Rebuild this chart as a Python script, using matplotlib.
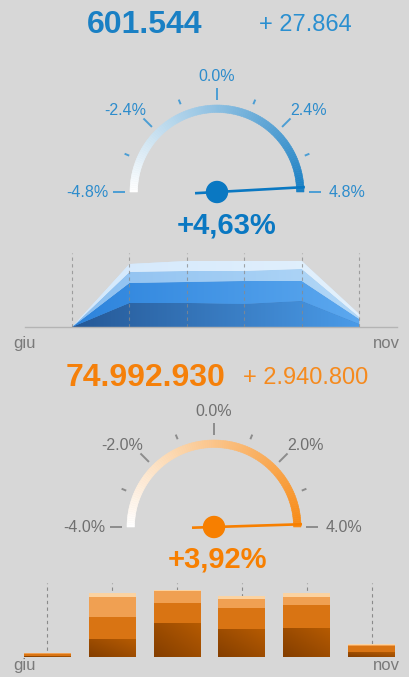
import numpy as np
import matplotlib.pyplot as plt
from matplotlib.patches import Wedge, Circle
from matplotlib.colors import LinearSegmentedColormap

W, H = 410, 677

# ---- data ----
months = ["giu", "lug", "ago", "set", "ott", "nov"]

top_total = "601.544"
top_delta = "+ 27.864"
top_change = 4.63
top_range = 4.8

# stacked area layers (bottom -> top)
area_dark = [0, 24, 24, 23, 26, 3]
area_mid = [0, 20, 21, 23, 20, 5]
area_light = [0, 11, 11, 10, 12, 2]
area_pale = [0, 8, 10, 10, 8, 3]

bot_total = "74.992.930"
bot_delta = "+ 2.940.800"
bot_change = 3.92
bot_range = 4.0

# stacked bar layers (bottom -> top)
bar_dark = [1.2, 18, 33.7, 27.7, 29.3, 5]
bar_mid = [1.5, 21.7, 20, 21.3, 22.7, 6.5]
bar_light = [1, 20, 12.6, 9, 7.7, 1]
bar_pale = [0.6, 4.6, 0.7, 3.3, 4.6, 1]

BG = "#d7d7d7"
FONT = "Liberation Sans"

fig = plt.figure(figsize=(W / 100, H / 100), dpi=100, facecolor=BG)


def px_axes(left, top, width, height):
    ax = fig.add_axes([left / W, 1 - (top + height) / H, width / W, height / H])
    ax.set_facecolor("none")
    return ax


def gauge(cx, cy, value, vmax, color, needle_color, tick_color, label_color, txt_dx):
    ax = px_axes(cx - 170, cy - 135, 340, 185)
    ax.set_xlim(-170, 170)
    ax.set_ylim(-50, 135)
    ax.axis("off")

    # gradient arc
    cmap = LinearSegmentedColormap.from_list("arc", ["#ffffff", color])
    n = 120
    edges = np.linspace(180, 0, n + 1)
    for i in range(n):
        c = cmap(i / (n - 1))
        ax.add_patch(Wedge((0, 0), 87, edges[i + 1], edges[i], width=7.5,
                           facecolor=c, edgecolor=c, lw=0.4))

    # ticks and labels
    ticks = np.linspace(-vmax, vmax, 9)
    for i, t in enumerate(ticks):
        a = np.deg2rad(90 - 90 * t / vmax)
        r0, r1 = (92, 104) if i % 2 == 0 else (95, 100)
        ax.plot([r0 * np.cos(a), r1 * np.cos(a)], [r0 * np.sin(a), r1 * np.sin(a)],
                color=tick_color, lw=1.4, solid_capstyle="butt")
        if i % 2 == 0:
            ax.text(130 * np.cos(a), 116 * np.sin(a) - 5, f"{t:.1f}%",
                    ha="center", va="baseline", fontsize=11.5, color=label_color,
                    family=FONT)

    # needle
    a = np.deg2rad(90 - 90 * value / vmax)
    ax.plot([-22 * np.cos(a), 88 * np.cos(a)], [-22 * np.sin(a), 88 * np.sin(a)],
            color=needle_color, lw=1.9, solid_capstyle="butt", zorder=4)
    ax.add_patch(Circle((0, 0), 10.5, color=needle_color, zorder=5))

    label = f"{value:+.2f}%".replace(".", ",")
    ax.text(txt_dx, -41, label, ha="center", va="baseline", fontsize=21,
            fontweight="bold", color=needle_color, family=FONT)
    return ax


def gradient_fill(ax, path, c0, c1, extent, diagonal=False, z=2):
    cmap = LinearSegmentedColormap.from_list("g", [c0, c1])
    if diagonal:
        xx, yy = np.meshgrid(np.linspace(0, 1, 64), np.linspace(0, 1, 64))
        img = (xx + yy) / 2
    else:
        img = np.linspace(0, 1, 256)[None, :]
    im = ax.imshow(img, cmap=cmap, extent=extent, aspect="auto", origin="lower",
                   interpolation="bilinear", zorder=z)
    im.set_clip_path(path, ax.transData)


# ---- top headline ----
fig.text(145 / W, 1 - 33 / H, top_total, ha="center", va="baseline", fontsize=23,
         fontweight="bold", color="#1a80c4", family=FONT)
fig.text(305 / W, 1 - 31 / H, top_delta, ha="center", va="baseline", fontsize=17,
         color="#2a8fd0", family=FONT)

gauge(217, 192, top_change, top_range, "#1a80c4", "#0a78c2", "#4c9ed4", "#2d8ccc", 10)

# ---- area chart ----
ax = px_axes(25, 253, 372, 74)
x = np.arange(len(months))
layers = [area_dark, area_mid, area_light, area_pale]
grads = [("#255896", "#4a9be8"), ("#2c83dc", "#5ca8ef"),
         ("#8cbff0", "#b3d8f7"), ("#d3e8fc", "#e3f1fd")]
polys = ax.stackplot(x, *layers, colors=[g[0] for g in grads], lw=0)
for poly, (c0, c1) in zip(polys, grads):
    gradient_fill(ax, poly.get_paths()[0], c0, c1, [0, 5, 0, 74], z=poly.get_zorder())
for xi in x:
    ax.axvline(xi, color="#8a8a8a", lw=0.8, ls=(0, (3, 3)), alpha=0.75, zorder=3)
ax.set_xlim(-0.82, 5.66)
ax.set_ylim(0, 74)
for s in ["top", "left", "right"]:
    ax.spines[s].set_visible(False)
ax.spines["bottom"].set_color("#b4b4b4")
ax.spines["bottom"].set_linewidth(1)
ax.set_xticks([])
ax.set_yticks([])

fig.text(13 / W, 1 - 348 / H, months[0], ha="left", va="baseline", fontsize=12,
         color="#7a7a7a", family=FONT)
fig.text(400 / W, 1 - 348 / H, months[-1], ha="right", va="baseline", fontsize=12,
         color="#7a7a7a", family=FONT)

# ---- bottom headline ----
fig.text(146 / W, 1 - 386 / H, bot_total, ha="center", va="baseline", fontsize=23,
         fontweight="bold", color="#f5800a", family=FONT)
fig.text(306 / W, 1 - 384 / H, bot_delta, ha="center", va="baseline", fontsize=17,
         color="#f58a1e", family=FONT)

gauge(214, 527, bot_change, bot_range, "#f88a14", "#f77f00", "#8c8c8c", "#707070", 4)

# ---- bar chart ----
ax2 = px_axes(0, 583, 410, 74)
for xi in x:
    ax2.axvline(xi, color="#8a8a8a", lw=0.8, ls=(0, (3, 3)), zorder=1)
bottom = np.zeros(len(x))
bar_layers = [bar_dark, bar_mid, bar_light, bar_pale]
bar_colors = ["#a04e02", "#d97413", "#f0a052", "#fbd3a2"]
for k, (vals, col) in enumerate(zip(bar_layers, bar_colors)):
    bars = ax2.bar(x, vals, width=0.725, bottom=bottom, color=col, lw=0, zorder=2)
    if k == 0:
        for rect in bars:
            x0, y0 = rect.get_x(), rect.get_y()
            gradient_fill(ax2, rect.get_path().transformed(rect.get_patch_transform()),
                          "#843e00", "#b65b02",
                          [x0, x0 + rect.get_width(), y0, y0 + max(rect.get_height(), 1)],
                          diagonal=True, z=2.5)
    bottom += np.array(vals)
ax2.set_xlim(-0.733, 5.594)
ax2.set_ylim(0, 74)
ax2.axis("off")

fig.text(13 / W, 1 - 670 / H, months[0], ha="left", va="baseline", fontsize=12,
         color="#7a7a7a", family=FONT)
fig.text(400 / W, 1 - 670 / H, months[-1], ha="right", va="baseline", fontsize=12,
         color="#7a7a7a", family=FONT)

fig.savefig("out.png", dpi=100, facecolor=BG)
